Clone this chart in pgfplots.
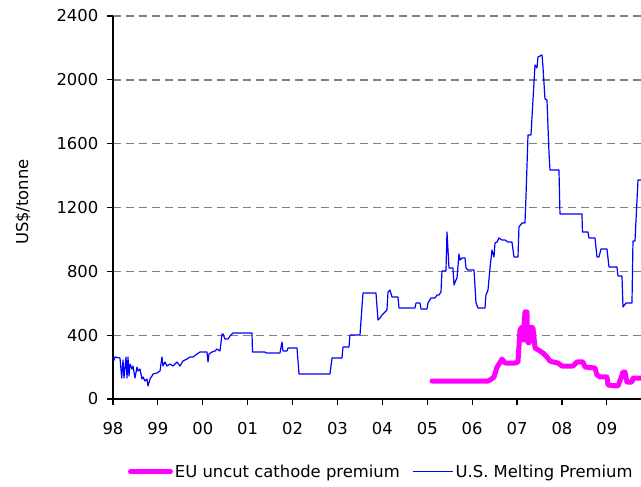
\documentclass[border=0pt]{standalone}
\usepackage{fontspec}
\setmainfont{DejaVu Sans}
\usepackage{pgfplots}
\pgfplotsset{compat=1.18}
\definecolor{usblue}{RGB}{0,0,255}
\definecolor{eupink}{RGB}{255,0,255}
\definecolor{gridgray}{RGB}{128,128,128}

\begin{document}
\begin{tikzpicture}[font=\fontsize{12.3}{14.8}\selectfont]
\useasboundingbox (-84.75pt,-65.25pt) rectangle (396pt,299.25pt);
\begin{axis}[
    scale only axis,
    width=396pt, height=287.25pt,
    xmin=1998, xmax=2009.76,
    ymin=0, ymax=2400,
    axis lines*=left,
    axis line style={line width=0.9pt, black},
    tick align=outside,
    major tick length=4.5pt,
    tick style={black, line width=0.9pt},
    xtick={1998,1999,...,2009},
    xticklabels={98,99,00,01,02,03,04,05,06,07,08,09},
    ytick={0,400,...,2400},
    /pgf/number format/assume math mode=true,
    /pgf/number format/1000 sep={},
    yticklabel style={xshift=-3pt},
    xticklabel style={yshift=-9.5pt},
    ymajorgrids=true,
    major grid style={gridgray, line width=1pt, dash pattern=on 6pt off 3.75pt},
    ylabel={US\$/tonne},
    every axis y label/.style={at={(axis description cs:0,0.514)}, xshift=-67.5pt, rotate=90, anchor=center},
    legend style={at={(axis description cs:0.508,-0.19)}, anchor=center, draw=none, fill=none,
        legend columns=2, inner sep=0pt, nodes={inner sep=1.5pt},
        /tikz/every even column/.append style={column sep=8pt}},
    legend cell align=left,
    legend image code/.code={\draw[#1] (0pt,0pt) -- (30pt,0pt);},
]
% EU uncut cathode premium
\addplot[eupink, line width=3.75pt, line join=round, line cap=round] coordinates {
(2005.105,112.8) (2006.352,112.8) (2006.397,119.1) (2006.486,137.9) (2006.553,200.5)
(2006.597,219.3) (2006.664,250.7) (2006.731,225.6) (2006.953,225.6) (2007.020,231.9)
(2007.065,432.4) (2007.109,451.2) (2007.131,369.7) (2007.176,545.2) (2007.220,545.2)
(2007.232,357.2) (2007.265,350.9) (2007.310,451.2) (2007.354,444.9) (2007.376,388.5)
(2007.399,319.6) (2007.510,300.8) (2007.577,288.3) (2007.666,263.2) (2007.733,238.1)
(2007.800,231.9) (2007.911,225.6) (2008.000,206.8) (2008.245,206.8) (2008.334,231.9)
(2008.468,231.9) (2008.512,200.5) (2008.735,194.3) (2008.780,150.4) (2008.846,137.9)
(2009.002,137.9) (2009.025,87.7) (2009.247,81.5) (2009.314,131.6) (2009.359,169.2)
(2009.403,169.2) (2009.448,106.5) (2009.559,106.5) (2009.581,131.6) (2009.800,131.6)
};
\addlegendentry{EU uncut cathode premium}
% U.S. melting premium
\addplot[usblue, line width=0.9pt, line join=round] coordinates {
(1998.007,233.7) (1998.045,263.2) (1998.156,256.9) (1998.194,131.6) (1998.223,244.4)
(1998.245,131.6) (1998.290,263.2) (1998.312,131.6) (1998.334,263.2) (1998.356,144.1)
(1998.379,219.3) (1998.423,188.0) (1998.445,206.8) (1998.490,131.6) (1998.535,200.5)
(1998.557,175.5) (1998.601,188.0) (1998.646,125.3) (1998.668,137.9) (1998.713,112.8)
(1998.757,125.3) (1998.780,81.5) (1998.824,125.3) (1998.869,144.1) (1998.891,156.7)
(1998.980,162.9) (1999.047,175.5) (1999.091,263.2) (1999.114,206.8) (1999.158,231.9)
(1999.203,206.8) (1999.269,219.3) (1999.336,206.8) (1999.425,231.9) (1999.492,206.8)
(1999.559,238.1) (1999.648,250.7) (1999.715,263.2) (1999.782,263.2) (1999.871,282.0)
(1999.938,294.5) (2000.094,294.5) (2000.116,231.9) (2000.138,282.0) (2000.205,294.5)
(2000.272,300.8) (2000.316,313.3) (2000.383,300.8) (2000.428,407.3) (2000.450,407.3)
(2000.494,376.0) (2000.561,376.0) (2000.606,394.8) (2000.673,413.6) (2001.096,413.6)
(2001.107,294.5) (2001.385,294.5) (2001.408,288.3) (2001.719,288.3) (2001.764,357.2)
(2001.786,300.8) (2001.875,300.8) (2001.898,319.6) (2002.098,319.6) (2002.143,156.7)
(2002.833,156.7) (2002.878,256.9) (2003.100,256.9) (2003.123,325.8) (2003.256,325.8)
(2003.278,401.0) (2003.501,401.0) (2003.568,664.2) (2003.857,664.2) (2003.902,495.0)
(2003.947,507.6) (2003.991,526.4) (2004.058,545.2) (2004.102,557.7) (2004.125,670.5)
(2004.169,683.0) (2004.214,639.2) (2004.347,639.2) (2004.370,570.2) (2004.726,570.2)
(2004.748,601.6) (2004.837,601.6) (2004.860,564.0) (2004.993,564.0) (2005.016,601.6)
(2005.082,632.9) (2005.171,632.9) (2005.216,651.7) (2005.261,651.7) (2005.305,670.5)
(2005.327,802.1) (2005.416,802.1) (2005.439,1046.5) (2005.483,820.9) (2005.572,820.9)
(2005.595,714.4) (2005.639,745.7) (2005.662,758.2) (2005.706,908.6) (2005.728,871.0)
(2005.773,883.5) (2005.840,883.5) (2005.862,820.9) (2005.906,808.4) (2006.040,808.4)
(2006.085,601.6) (2006.129,570.2) (2006.285,570.2) (2006.307,651.7) (2006.352,683.0)
(2006.397,820.9) (2006.441,933.7) (2006.486,889.8) (2006.508,977.5) (2006.553,983.8)
(2006.597,1008.9) (2006.664,996.3) (2006.731,996.3) (2006.798,983.8) (2006.886,983.8)
(2006.931,889.8) (2007.020,889.8) (2007.042,1077.8) (2007.109,1102.9) (2007.176,1102.9)
(2007.198,1265.8) (2007.243,1654.3) (2007.310,1654.3) (2007.354,1873.6) (2007.399,2092.9)
(2007.443,2074.1) (2007.465,2143.1) (2007.555,2155.6) (2007.577,2080.4) (2007.621,1879.9)
(2007.666,1873.6) (2007.710,1547.8) (2007.733,1435.0) (2007.933,1435.0) (2007.955,1159.3)
(2008.445,1159.3) (2008.456,1046.5) (2008.579,1046.5) (2008.601,1008.9) (2008.735,1008.9)
(2008.780,889.8) (2008.824,889.8) (2008.869,940.0) (2009.002,940.0) (2009.047,827.2)
(2009.225,827.2) (2009.247,770.8) (2009.336,770.8) (2009.359,576.5) (2009.425,601.6)
(2009.559,601.6) (2009.581,990.1) (2009.626,990.1) (2009.693,1372.3) (2009.900,1372.3)
};
\addlegendentry{U.S. Melting Premium}
\end{axis}
\end{tikzpicture}
\end{document}
